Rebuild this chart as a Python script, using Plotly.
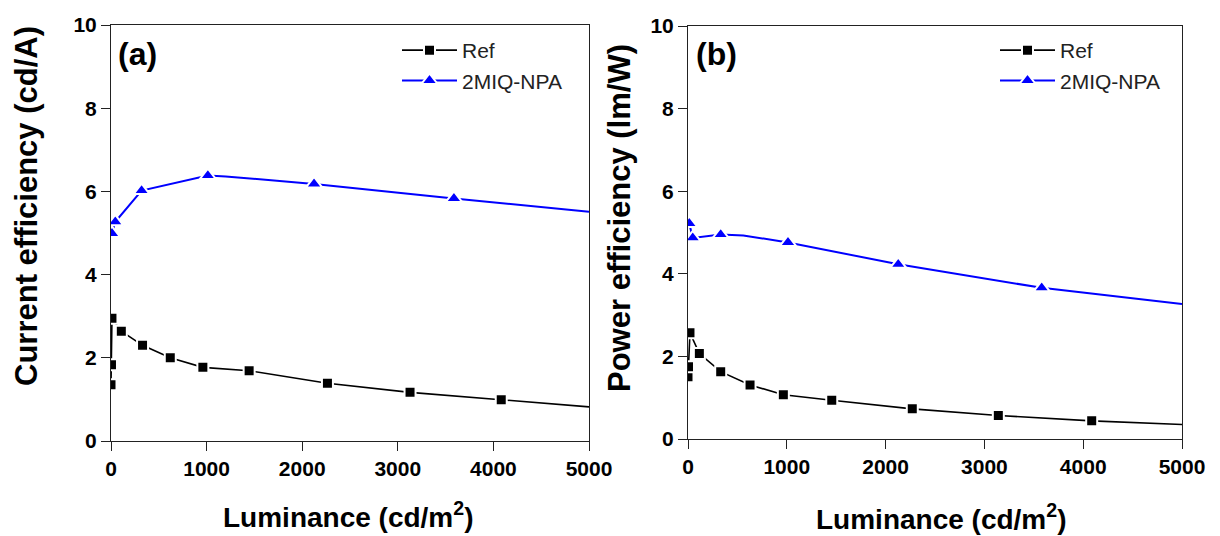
import plotly.graph_objects as go

# ---- data ----
# Panel (a): current efficiency (cd/A) vs luminance (cd/m2)
a_ref_x = [0, 5, 10, 108, 330, 620, 961, 1445, 2264, 3128, 4082, 5000]
a_ref_y = [1.35, 1.83, 2.95, 2.64, 2.30, 2.00, 1.77, 1.69, 1.39, 1.17, 0.99, 0.82]
a_ref_mark = [1, 1, 1, 1, 1, 1, 1, 1, 1, 1, 1, 0]

a_npa_x = [10, 45, 320, 1013, 1200, 2124, 3587, 5000]
a_npa_y = [4.99, 5.27, 6.02, 6.38, 6.36, 6.18, 5.83, 5.51]
a_npa_mark = [1, 1, 1, 1, 0, 1, 1, 0]

# Panel (b): power efficiency (lm/W) vs luminance (cd/m2)
b_ref_x = [0, 5, 20, 115, 331, 628, 965, 1455, 2270, 3141, 4086, 5000]
b_ref_y = [1.51, 1.75, 2.57, 2.07, 1.63, 1.31, 1.07, 0.94, 0.73, 0.57, 0.44, 0.35]
b_ref_mark = [1, 1, 1, 1, 1, 1, 1, 1, 1, 1, 1, 0]

b_npa_x = [13, 48, 331, 560, 1012, 2128, 3580, 5000]
b_npa_y = [5.22, 4.87, 4.95, 4.93, 4.76, 4.23, 3.66, 3.27]
b_npa_mark = [1, 1, 1, 0, 1, 1, 1, 0]

series_names = ["Ref", "2MIQ-NPA"]
panel_labels = ["(a)", "(b)"]
y_titles = ["Current efficiency (cd/A)", "Power efficiency (lm/W)"]
x_title = "Luminance (cd/m<sup>2</sup>)"
x_ticks = [0, 1000, 2000, 3000, 4000, 5000]
y_ticks = [0, 2, 4, 6, 8, 10]

W, H = 1220, 536
FONT = "Liberation Sans, Arial, sans-serif"


def px(x):
    return x / W


def py(y):
    return 1 - y / H


fig = go.Figure()


def add_series(x, y, mark, name, color, symbol, size, xa, ya, legend, lw):
    fig.add_trace(go.Scatter(
        x=x, y=y, name=name, mode="lines+markers",
        xaxis=xa, yaxis=ya, legend=legend,
        line=dict(color=color, width=lw),
        marker=dict(symbol=symbol, color=color, size=size,
                    line=dict(color="white", width=2)),
        selectedpoints=[i for i, m in enumerate(mark) if m],
        selected=dict(marker=dict(opacity=1)),
        unselected=dict(marker=dict(opacity=0)),
    ))


add_series(a_ref_x, a_ref_y, a_ref_mark, series_names[0], "black", "square", 11, "x", "y", "legend", 1.6)
add_series(a_npa_x, a_npa_y, a_npa_mark, series_names[1], "#0000FF", "triangle-up", 14, "x", "y", "legend", 2)
add_series(b_ref_x, b_ref_y, b_ref_mark, series_names[0], "black", "square", 11, "x2", "y2", "legend2", 1.6)
add_series(b_npa_x, b_npa_y, b_npa_mark, series_names[1], "#0000FF", "triangle-up", 14, "x2", "y2", "legend2", 2)

axis_common = dict(
    showgrid=False, zeroline=False, showline=True, mirror=True,
    linecolor="#222", linewidth=1, ticks="outside", ticklen=9,
    tickcolor="#222", tickwidth=1, automargin=False,
    tickfont=dict(family=FONT, size=21, color="black", weight="bold"),
)

fig.update_layout(
    width=W, height=H, margin=dict(l=0, r=0, t=0, b=0, autoexpand=False),
    paper_bgcolor="white", plot_bgcolor="white",
    xaxis=dict(domain=[px(111), px(589)], range=[0, 5000], tickvals=x_ticks, anchor="y", **axis_common),
    yaxis=dict(domain=[1 - 441 / H, 1 - 25 / H], range=[0, 10], tickvals=y_ticks, anchor="x", **axis_common),
    xaxis2=dict(domain=[px(688), px(1182)], range=[0, 5000], tickvals=x_ticks, anchor="y2", **axis_common),
    yaxis2=dict(domain=[1 - 439 / H, 1 - 26 / H], range=[0, 10], tickvals=y_ticks, anchor="x2", **axis_common),
    legend=dict(x=px(397), y=py(30), xanchor="left", yanchor="top",
                bgcolor="rgba(0,0,0,0)", itemwidth=55,
                font=dict(family=FONT, size=21, color="#222")),
    legend2=dict(x=px(995), y=py(30), xanchor="left", yanchor="top",
                 bgcolor="rgba(0,0,0,0)", itemwidth=55,
                 font=dict(family=FONT, size=21, color="#222")),
    showlegend=True,
)

# panel labels
fig.add_annotation(text=panel_labels[0], x=px(116), y=py(54), xref="paper", yref="paper",
                   xanchor="left", yanchor="middle", showarrow=False,
                   font=dict(family=FONT, size=32, color="black", weight="bold"))
fig.add_annotation(text=panel_labels[1], x=px(694), y=py(54), xref="paper", yref="paper",
                   xanchor="left", yanchor="middle", showarrow=False,
                   font=dict(family=FONT, size=32, color="black", weight="bold"))

# y-axis titles
fig.add_annotation(text=y_titles[0], x=px(27), y=py(206), xref="paper", yref="paper",
                   xanchor="center", yanchor="middle", textangle=-90, showarrow=False,
                   font=dict(family=FONT, size=31, color="black", weight="bold"))
fig.add_annotation(text=y_titles[1], x=px(619), y=py(218), xref="paper", yref="paper",
                   xanchor="center", yanchor="middle", textangle=-90, showarrow=False,
                   font=dict(family=FONT, size=31, color="black", weight="bold"))

# x-axis titles
fig.add_annotation(text=x_title, x=px(348), y=py(515), xref="paper", yref="paper",
                   xanchor="center", yanchor="middle", showarrow=False,
                   font=dict(family=FONT, size=28, color="black", weight="bold"))
fig.add_annotation(text=x_title, x=px(941), y=py(517), xref="paper", yref="paper",
                   xanchor="center", yanchor="middle", showarrow=False,
                   font=dict(family=FONT, size=28, color="black", weight="bold"))

fig.write_html("out.html")
